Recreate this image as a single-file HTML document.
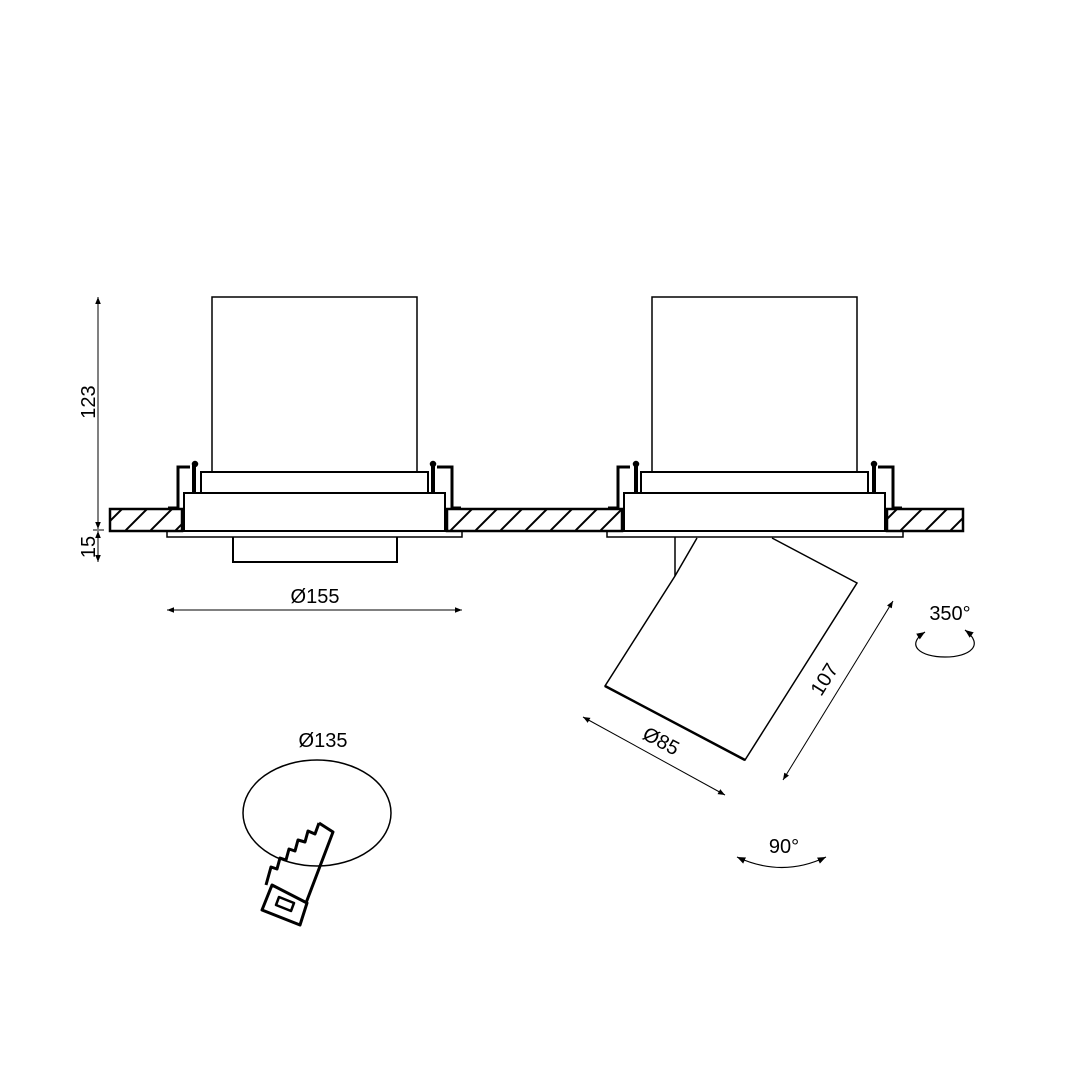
<!DOCTYPE html>
<html><head><meta charset="utf-8"><style>html,body{margin:0;padding:0;background:#fff}svg{display:block}</style></head><body>
<svg width="1080" height="1080" viewBox="0 0 1080 1080" xmlns="http://www.w3.org/2000/svg" font-family="Liberation Sans, DejaVu Sans, sans-serif">
<defs>
<marker id="a" viewBox="0 0 10 10" refX="10" refY="5" markerWidth="7" markerHeight="7" orient="auto-start-reverse"><path d="M0,1 L10,5 L0,9 z" fill="#000"/></marker>
<pattern id="h" patternUnits="userSpaceOnUse" width="25" height="22" x="0" y="509"><line x1="0" y1="22" x2="22" y2="0" stroke="#000" stroke-width="2"/></pattern>
</defs>
<g stroke="#000" fill="none" stroke-width="1.5">
<rect x="110" y="509" width="72" height="22" fill="url(#h)" stroke-width="2.5"/>
<rect x="447" y="509" width="175" height="22" fill="url(#h)" stroke-width="2.5"/>
<rect x="887" y="509" width="76" height="22" fill="url(#h)" stroke-width="2.5"/>
<path d="M212,472 V297 H417 V472"/>
<rect x="201" y="472" width="227" height="21" stroke-width="2"/>
<rect x="184" y="493" width="261" height="38" stroke-width="2"/>
<rect x="167" y="531" width="295" height="6"/>
<path d="M233,537 V562 H397 V537" stroke-width="2"/>
<path d="M168,508 H178 V467 H190" stroke-width="3"/>
<path d="M194,464 V492" stroke-width="4"/><circle cx="195" cy="464" r="2.5" fill="#000"/>
<path d="M461,508 H452 V467 H437" stroke-width="3"/>
<path d="M433,464 V492" stroke-width="4"/><circle cx="433" cy="464" r="2.5" fill="#000"/>
<path d="M652,472 V297 H857 V472"/>
<rect x="641" y="472" width="227" height="21" stroke-width="2"/>
<rect x="624" y="493" width="261" height="38" stroke-width="2"/>
<rect x="607" y="531" width="296" height="6"/>
<path d="M608,508 H618 V467 H630" stroke-width="3"/>
<path d="M636,464 V492" stroke-width="4"/><circle cx="636" cy="464" r="2.5" fill="#000"/>
<path d="M902,508 H893 V467 H878" stroke-width="3"/>
<path d="M874,464 V492" stroke-width="4"/><circle cx="874" cy="464" r="2.5" fill="#000"/>
<path d="M675,537 V576"/>
<path d="M697,538 L675,576 L605,686 L745,760 L857,583 L772,538"/>
<path d="M605,686 L745,760" stroke-width="2.5"/>
<line x1="98" y1="297" x2="98" y2="529" marker-start="url(#a)" marker-end="url(#a)" stroke-width="1"/>
<line x1="98" y1="531" x2="98" y2="562" marker-start="url(#a)" marker-end="url(#a)" stroke-width="1"/>
<line x1="93" y1="530" x2="104" y2="530" stroke-width="1"/>
<line x1="167" y1="610" x2="462" y2="610" marker-start="url(#a)" marker-end="url(#a)" stroke-width="1"/>
<line x1="893" y1="601" x2="783" y2="780" marker-start="url(#a)" marker-end="url(#a)" stroke-width="1"/>
<line x1="583" y1="717" x2="725" y2="795" marker-start="url(#a)" marker-end="url(#a)" stroke-width="1"/>
<path d="M925,632 C905,645 920,657 945,657 C970,657 985,645 965,630" marker-start="url(#a)" marker-end="url(#a)" stroke-width="1.2"/>
<path d="M737,857 Q782,878 826,857" marker-start="url(#a)" marker-end="url(#a)" stroke-width="1.2"/>
<ellipse cx="317" cy="813" rx="74" ry="53" stroke-width="1.5"/>
<g stroke-width="3" stroke-linejoin="round">
<path d="M319,823 L333,832 L306,903 M319,823 L315,834 L308,831 L305,842 L298,840 L295,851 L289,849 L286,860 L280,858 L277,869 L271,867 L266,885"/>
<path d="M272,885 L307,903 L300,925 L262,910 Z"/>
<path d="M279,897 L294,903 L291,911 L276,905 Z" stroke-width="2.5"/>
</g>
</g>
<g font-size="20" fill="#000">
<text x="315" y="603" text-anchor="middle">Ø155</text>
<text x="323" y="747" text-anchor="middle">Ø135</text>
<text x="950" y="620" text-anchor="middle">350°</text>
<text x="784" y="853" text-anchor="middle">90°</text>
<text transform="translate(95,402) rotate(-90)" text-anchor="middle">123</text>
<text transform="translate(95,547) rotate(-90)" text-anchor="middle">15</text>
<text transform="translate(830,683) rotate(-58)" text-anchor="middle">107</text>
<text transform="translate(658,747) rotate(28)" text-anchor="middle">Ø85</text>
</g>
</svg>
</body></html>
